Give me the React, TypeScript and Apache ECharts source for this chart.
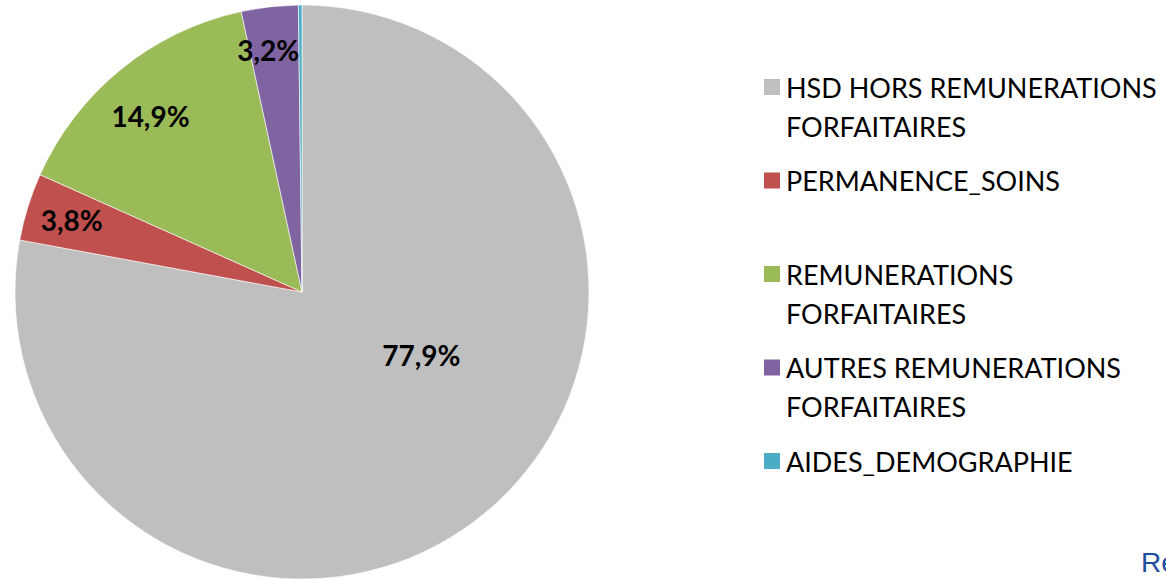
import React, { useEffect, useRef } from "react";
import * as echarts from "echarts";

const categories = [
  "HSD HORS REMUNERATIONS FORFAITAIRES",
  "PERMANENCE_SOINS",
  "REMUNERATIONS FORFAITAIRES",
  "AUTRES REMUNERATIONS FORFAITAIRES",
  "AIDES_DEMOGRAPHIE",
];
const legendLines = [
  ["HSD HORS REMUNERATIONS", "FORFAITAIRES"],
  ["PERMANENCE_SOINS"],
  ["REMUNERATIONS", "FORFAITAIRES"],
  ["AUTRES REMUNERATIONS", "FORFAITAIRES"],
  ["AIDES_DEMOGRAPHIE"],
];
const values = [77.9, 3.8, 14.9, 3.2, 0.2];
const showLabel = [true, true, true, true, false];
const colors = ["#BFBFBF", "#C0504D", "#9BBB59", "#8064A2", "#4BACC6"];

// label placement: [fraction along slice angle, fraction of radius]
const labelPlacement = [
  [0.42, 0.47],
  [0.5, 0.84],
  [0.47, 0.81],
  [0.37, 0.85],
  [0.5, 0.5],
];

const CX = 302;
const CY = 292;
const R = 287;
const FONT = "Lato, 'Open Sans', sans-serif";

export default function App() {
  const ref = useRef<HTMLDivElement>(null);
  useEffect(() => {
    if (!ref.current) return;
    const chart = echarts.init(ref.current, null, { renderer: "svg" });
    const total = values.reduce((a, b) => a + b, 0);
    const starts: number[] = [];
    let acc = 90;
    values.forEach((v) => {
      starts.push(acc);
      acc -= (v / total) * 360;
    });

    const lineH = 39;
    const legends = categories.map((name, i) => {
      const lines = legendLines[i];
      const text = lines.length > 1 ? "\n" + lines.join("\n") : lines[0];
      const nLines = lines.length > 1 ? lines.length + 1 : 1;
      const h = nLines * lineH;
      const center = 87 + i * 93.5;
      return {
        show: true,
        orient: "vertical",
        left: 762,
        top: center - h / 2,
        padding: 0,
        itemGap: 0,
        itemWidth: 18,
        itemHeight: 18,
        icon: "rect",
        selectedMode: false,
        data: [name],
        formatter: () => text,
        textStyle: {
          fontFamily: FONT,
          fontSize: 27,
          lineHeight: lineH,
          color: "#000",
        },
      };
    });

    chart.setOption({
      animation: false,
      color: colors,
      legend: legends,
      graphic: [
        {
          type: "text",
          left: 1141,
          top: 548,
          style: {
            text: "Re",
            fill: "#1F4E9F",
            font: "28px 'Liberation Sans', Arial, sans-serif",
          },
        },
      ],
      series: [
        {
          type: "pie",
          center: [CX, CY],
          radius: [0, R],
          startAngle: 90,
          clockwise: true,
          avoidLabelOverlap: false,
          itemStyle: { borderColor: "#fff", borderWidth: 0.6 },
          label: {
            show: true,
            position: "inside",
            formatter: (p: any) => p.value.toFixed(1).replace(".", ",") + "%",
            fontFamily: FONT,
            fontWeight: "bold",
            fontSize: 28,
            color: "#000",
          },
          labelLine: { show: false },
          emphasis: { disabled: true },
          labelLayout: (p: any) => {
            const i = p.dataIndex;
            const span = (values[i] / total) * 360;
            const ang = ((starts[i] - span * labelPlacement[i][0]) * Math.PI) / 180;
            const r = R * labelPlacement[i][1];
            return {
              x: CX + r * Math.cos(ang),
              y: CY - r * Math.sin(ang),
              align: "center",
              verticalAlign: "middle",
            };
          },
          data: categories.map((name, i) => ({
            name,
            value: values[i],
            label: { show: showLabel[i] },
          })),
        },
      ],
    });
    return () => chart.dispose();
  }, []);
  return (
    <div
      ref={ref}
      style={{ position: "fixed", left: 0, top: 0, width: 1166, height: 579, background: "#fff" }}
    />
  );
}
